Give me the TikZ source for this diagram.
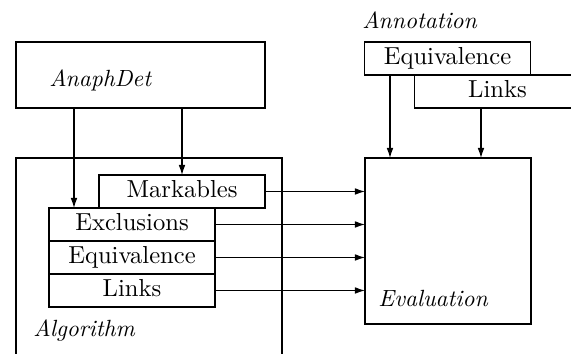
\documentclass[tikz,border=0pt]{standalone}
\usetikzlibrary{arrows.meta,positioning}

\begin{document}
\begin{tikzpicture}[x=0.15mm, y=-0.15mm,
    box/.style={rectangle, draw, fill=white, minimum width=24.9mm, minimum height=4.95mm, inner sep=0pt, outer sep=0pt, line width=0.45pt, font=\fontsize{10.5}{12}\selectfont, text height=1.6ex, text depth=0.45ex},
    title/.style={font=\itshape, anchor=base west, inner sep=0pt},
    arrow/.style={-{Latex[length=1.5mm,width=1mm]}, line width=0.45pt}
  ]
    \useasboundingbox (0,0) rectangle (571,354);
    \clip (0,0) rectangle (571,354);

    % Detector
    \node[box, minimum width=37.35mm, minimum height=9.9mm] (anaph) at (140.5,75) {};
    \node[title] (anaphtitle) at (49,87) {AnaphDet};

    % Algorithm (runs off the bottom)
    \node[box, minimum width=39.9mm, minimum height=36.3mm] (algo) at (149,279) {};
    \node[title] (algotitle) at (33,337) {Algorithm};
    \node[box] (mark) at (182,191.5) {Markables};
    \node[box] (excl) at (132,224.5) {Exclusions};
    \node[box] (equiv) at (132,257.5) {Equivalence};
    \node[box] (links) at (132,290.5) {Links};

    % Annotation
    \node[title] (annottitle) at (362,29) {Annotation};
    \node[box] (aequiv) at (447.5,58.5) {Equivalence};
    \node[box] (alinks) at (497.5,91.5) {Links};

    % Evaluation
    \node[box, minimum width=24.9mm, minimum height=24.9mm] (eval) at (448,241) {};
    \node[title] (evaltitle) at (378,307) {Evaluation};

    % Connections
    \coordinate (adexcl) at (74,108);
    \draw[arrow] (adexcl) -- (adexcl |- excl.north);
    \draw[arrow] (anaph.south -| mark.north) -- (mark.north);

    \coordinate (anequiv) at (390,75);
    \coordinate (anlinks) at (481,108);
    \draw[arrow] (anequiv) -- (anequiv |- eval.north);
    \draw[arrow] (anlinks) -- (anlinks |- eval.north);

    \draw[arrow] (mark.east) -- (mark.east -| eval.west);
    \draw[arrow] (excl.east) -- (excl.east -| eval.west);
    \draw[arrow] (equiv.east) -- (equiv.east -| eval.west);
    \draw[arrow] (links.east) -- (links.east -| eval.west);
  \end{tikzpicture}
\end{document}
